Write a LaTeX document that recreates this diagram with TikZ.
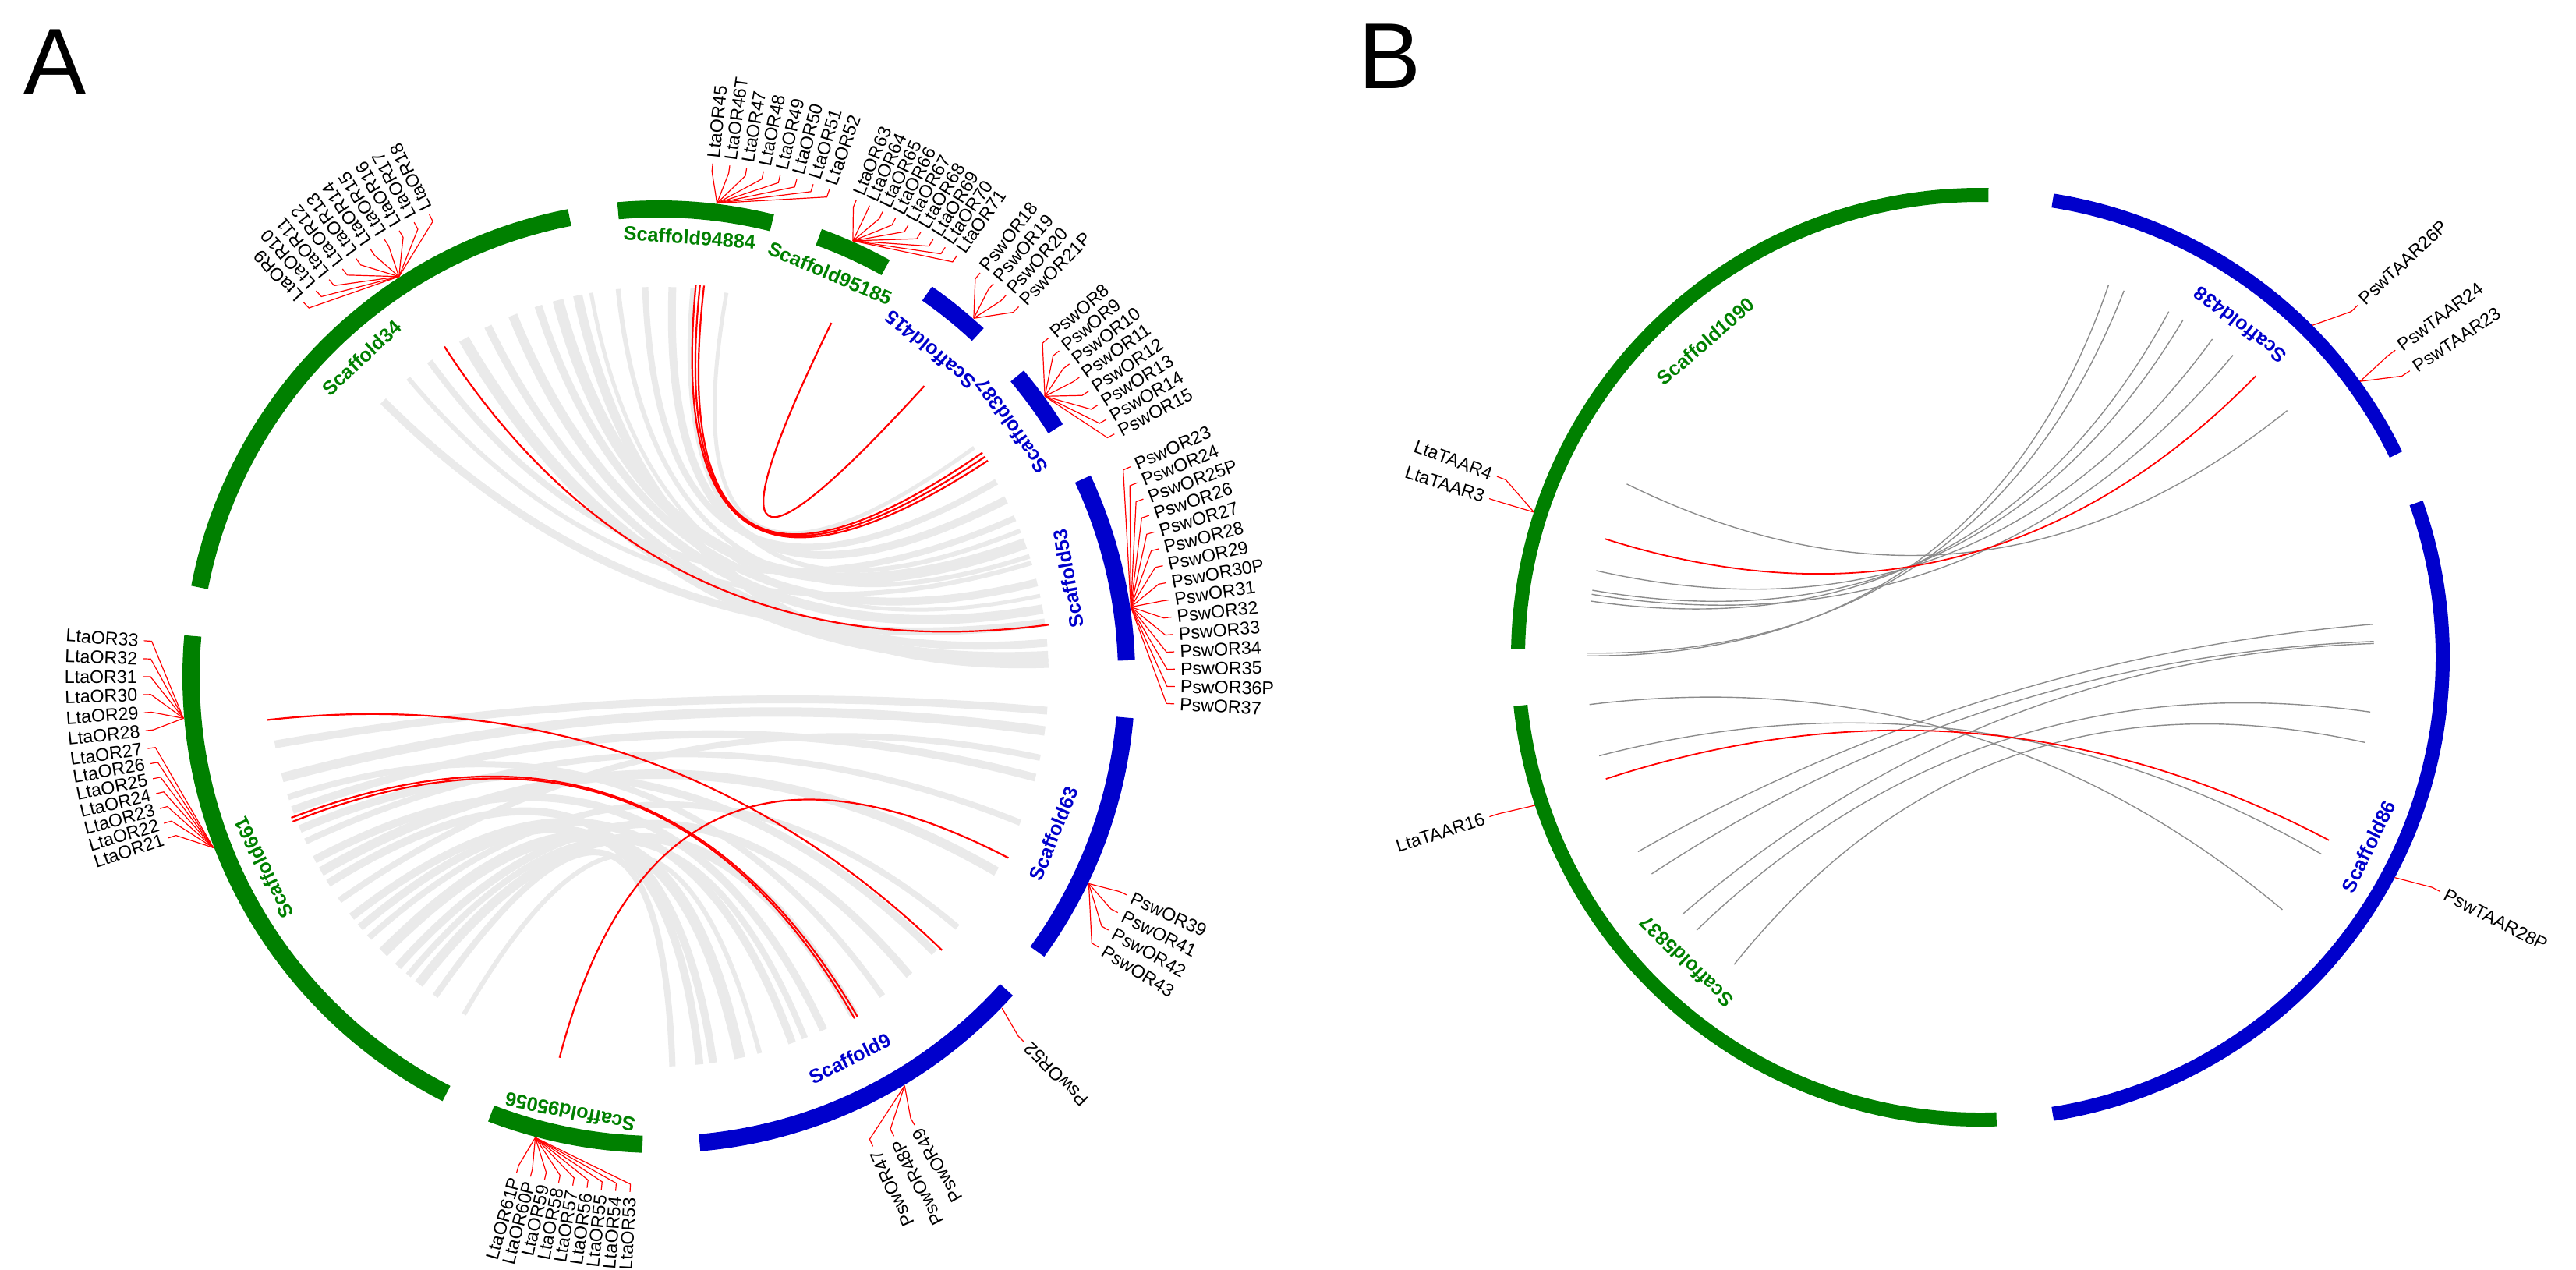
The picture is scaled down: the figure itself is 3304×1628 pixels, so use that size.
\documentclass[tikz,border=0pt]{standalone}
\usepackage{fontspec}
\setmainfont{Liberation Sans}
\definecolor{sg}{RGB}{0,128,0}
\definecolor{sb}{RGB}{0,0,204}
\definecolor{rib}{RGB}{234,234,234}
\definecolor{lk}{RGB}{140,140,140}
\tikzset{
 gl/.style={red, line width=0.3pt},
 gt/.style={font=\fontsize{5.8}{5.8}\selectfont, inner sep=0.6pt},
 st/.style={font=\fontsize{6.3}{6.3}\selectfont\bfseries, inner sep=0pt},
 rl/.style={red, line width=0.55pt},
 gr/.style={rib, line width=#1*0.25pt},
 bl/.style={lk, line width=0.35pt},
 panel/.style={font=\fontsize{30}{30}\selectfont, inner sep=0pt, anchor=base west}
}
\newcommand\fan[6]{%
 \pgfmathsetmacro\nb{-(#2)}%
 \foreach \lab [count=\i from 0] in {#6}{%
   \pgfmathsetmacro\ang{#3+\i*(#4)}%
   \pgfmathsetmacro\nang{-\ang}%
   \draw[gl] (\nb:\Rb) -- (\nang:\Rk) -- (\nang:\Rl);
   \ifnum#5=0 \node[gt,anchor=west,rotate=\ang] (#1-\i) at (\nang:\Rt) {\lab};
   \else \node[gt,anchor=east,rotate=\ang+180] (#1-\i) at (\nang:\Rt) {\lab};\fi
 }}
\newcommand\sarc[4]{\pgfmathsetmacro\sa{-(#2)}\pgfmathsetmacro\sz{-(#3)}%
 \draw[#1] (\sa:#4) arc[start angle=\sa, end angle=\sz, radius=#4];}
\newcommand\lnk[4]{\pgfmathsetmacro\la{-(#2)}\pgfmathsetmacro\lb{-(#3)}\pgfmathsetmacro\lr{(#4)/3}%
 \draw[#1] (\la:#4) .. controls (\la:\lr) and (\lb:\lr) .. (\lb:#4);}
\newcommand\slab[6]{\pgfmathsetmacro\tha{-(#3)}\node[st,text=#2,rotate=#5] (#1) at (\tha:#4) {#6};}
\begin{document}
\begin{tikzpicture}[x=0.25pt,y=-0.25pt]
\useasboundingbox (0,0) rectangle (3304,1628);
\node[panel] (pA) at (30,120) {A};
\node[panel] (pB) at (1742,113) {B};

% ================= Panel A =================
\begin{scope}[shift={(845,868)}]
\def\Rb{612}\def\Rk{652}\def\Rl{662}\def\Rt{666}
\foreach \a/\b/\w in {105/20/14,108/14/10,112/10/12,116/5/10,120/3/14,126/24/8,130/17/6,135/8/10,100/12/5,92/30/8,88/27/10,85/22/6,80/36/5,102/2/12,96/18/6}
  {\lnk{gr=\w}{\a}{\b}{500}}
\foreach \a/\b/\w in {195/-8/12,200/-15/10,205/-22/8,210/-30/12,215/-12/8,190/-5/10,222/-40/8,228/-50/10,232/-60/12,218/-70/10,225/-78/14,212/-82/10,235/-88/8,208/-65/10,198/-55/8,240/-75/6,203/-45/10,230/-68/8,220/-84/10}
  {\lnk{gr=\w}{\a}{\b}{500}}
\lnk{rl}{84}{34}{505}
\lnk{rl}{84.6}{33.3}{505}
\lnk{rl}{83.4}{34.7}{505}
\lnk{rl}{64}{47.6}{505}
\lnk{rl}{123}{7.6}{505}
\lnk{rl}{186.3}{-44}{505}
\lnk{rl}{201}{-59.7}{505}
\lnk{rl}{201.6}{-60.2}{505}
\lnk{rl}{-104.6}{-27.4}{505}
\sarc{sg,line width=5.5pt}{101}{169}{600}
\sarc{sg,line width=5.5pt}{76}{95}{600}
\sarc{sg,line width=5.5pt}{61}{70}{600}
\sarc{sb,line width=5.5pt}{47}{55}{600}
\sarc{sb,line width=5.5pt}{32}{40}{600}
\sarc{sb,line width=5.5pt}{2}{25}{600}
\sarc{sb,line width=5.5pt}{-36}{-5}{600}
\sarc{sb,line width=5.5pt}{-85}{-42}{600}
\sarc{sg,line width=5.5pt}{-111}{-92}{600}
\sarc{sg,line width=5.5pt}{175}{243}{600}
\slab{s34}{sg}{133}{559}{43}{Scaffold34}
\slab{s94884}{sg}{86}{565}{-4}{Scaffold94884}
\slab{s95185}{sg}{67}{562}{-23}{Scaffold95185}
\slab{s415}{sb}{50.3}{545}{140}{Scaffold415}
\slab{s387}{sb}{35.4}{555}{125}{Scaffold387}
\slab{s53}{sb}{13.5}{540}{100}{Scaffold53}
\slab{s63}{sb}{-21.7}{545}{68}{Scaffold63}
\slab{s9}{sb}{-63.4}{548}{26.6}{Scaffold9}
\slab{s95056}{sg}{-101.5}{570}{168.5}{Scaffold95056}
\slab{s661}{sg}{205.8}{563}{115.8}{Scaffold661}
\fan{g34}{123}{133.5}{-1.9}{0}{LtaOR9,LtaOR10,LtaOR11,LtaOR12,LtaOR13,LtaOR14,LtaOR15,LtaOR16,LtaOR17,LtaOR18}
\fan{g948}{83}{84}{-1.9}{0}{LtaOR45,LtaOR46T,LtaOR47,LtaOR48,LtaOR49,LtaOR50,LtaOR51,LtaOR52}
\fan{g951}{66}{67.5}{-1.6}{0}{LtaOR63,LtaOR64,LtaOR65,LtaOR66,LtaOR67,LtaOR68,LtaOR69,LtaOR70,LtaOR71}
\fan{g415}{48.7}{51.5}{-1.9}{0}{PswOR18,PswOR19,PswOR20,PswOR21P}
\fan{g387}{36}{41}{-1.85}{0}{PswOR8,PswOR9,PswOR10,PswOR11,PswOR12,PswOR13,PswOR14,PswOR15}
\fan{g53}{8.4}{24}{-1.93}{0}{PswOR23,PswOR24,PswOR25P,PswOR26,PswOR27,PswOR28,PswOR29,PswOR30P,PswOR31,PswOR32,PswOR33,PswOR34,PswOR35,PswOR36P,PswOR37}
\fan{g63}{-25.7}{-25}{-2.2}{0}{PswOR39,PswOR41,PswOR42,PswOR43}
\fan{g52}{-44}{-45}{1}{1}{PswOR52}
\fan{g9}{-59}{-65.5}{2.6}{1}{PswOR47,PswOR48P,PswOR49}
\fan{g950}{-105}{-106}{1.6}{1}{LtaOR61P,LtaOR60P,LtaOR59,LtaOR58,LtaOR57,LtaOR56,LtaOR55,LtaOR54,LtaOR53}
\fan{g661a}{185}{176}{2}{1}{LtaOR33,LtaOR32,LtaOR31,LtaOR30,LtaOR29,LtaOR28}
\fan{g661b}{201}{188}{1.7}{1}{LtaOR27,LtaOR26,LtaOR25,LtaOR24,LtaOR23,LtaOR22,LtaOR21}
\end{scope}

% ================= Panel B =================
\begin{scope}[shift={(2540,843)}]
\def\Rb{602}\def\Rk{650}\def\Rl{662}\def\Rt{666}
\foreach \a/\b in {179.4/68.6,179.8/71,167.3/53.9,170.2/59,171.8/61.4,170.8/50.1,153.9/38.8}
  {\lnk{bl}{\a}{\b}{505}}
\lnk{red,line width=0.45pt}{162.5}{45.6}{505}
\foreach \a/\b in {186.9/-39.9,194.5/-30,209.6/4.8,213.4/2.3,220.8/2,223.9/-8,231.3/-12.5}
  {\lnk{bl}{\a}{\b}{505}}
\lnk{red,line width=0.45pt}{198}{-27.7}{505}
\sarc{sg,line width=4.5pt}{89}{179}{593}
\sarc{sb,line width=4.5pt}{26}{81}{593}
\sarc{sb,line width=4.5pt}{-81}{19.5}{593}
\sarc{sg,line width=4.5pt}{186}{272}{593}
\slab{s1090}{sg}{131}{537}{41}{Scaffold1090}
\slab{s438}{sb}{52}{541}{142}{Scaffold438}
\slab{s86}{sb}{-26}{554}{64}{Scaffold86}
\slab{s5837}{sg}{226}{543}{136}{Scaffold5837}
\fan{t26}{45}{43}{-3}{0}{PswTAAR26P}
\fan{t24}{36}{36.5}{-2.8}{0}{PswTAAR24,PswTAAR23}
\fan{t4}{162}{159.5}{2.6}{1}{LtaTAAR4,LtaTAAR3}
\fan{t16}{198.4}{198}{1}{1}{LtaTAAR16}
\fan{t28}{-28}{-27}{-1}{0}{PswTAAR28P}
\end{scope}
\end{tikzpicture}
\end{document}
